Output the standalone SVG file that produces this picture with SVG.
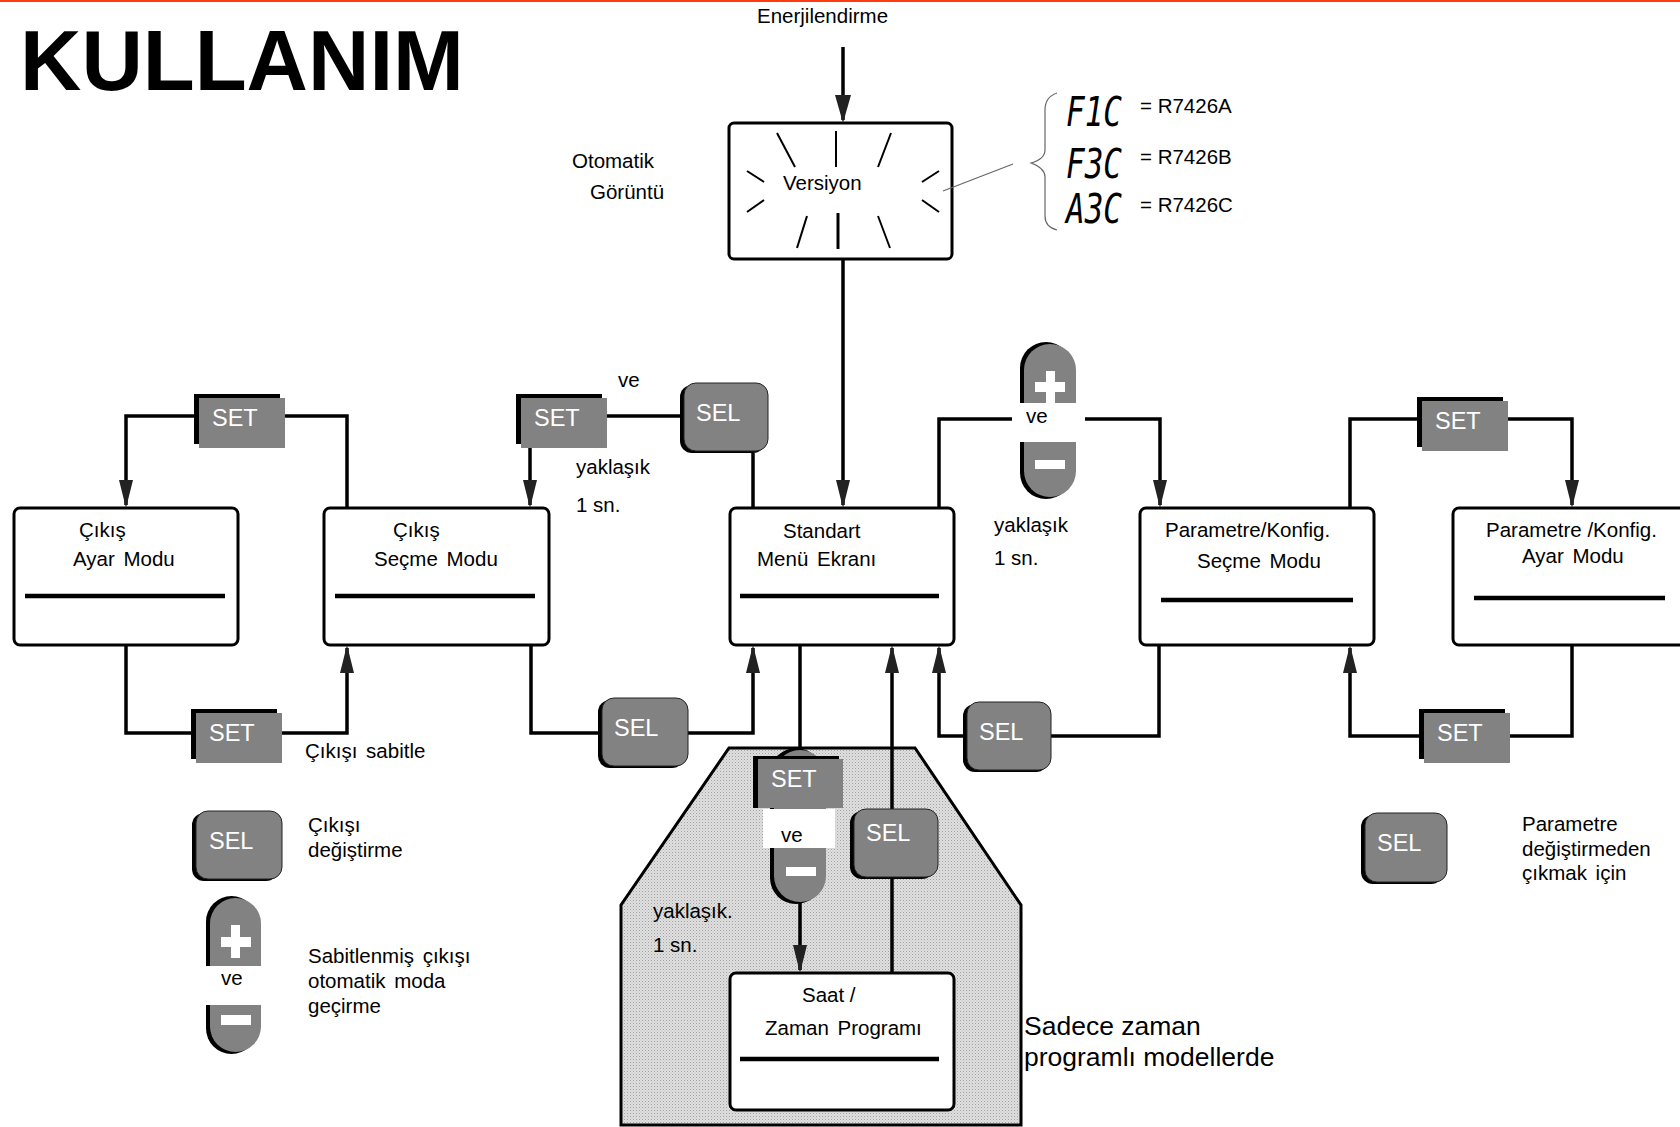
<svg xmlns="http://www.w3.org/2000/svg" width="1680" height="1127" viewBox="0 0 1680 1127">
<defs>
<style>
.t{font-family:"Liberation Sans",Arial,sans-serif;font-size:20.5px;fill:#000}
.big{font-family:"Liberation Sans",Arial,sans-serif;font-size:26.5px;fill:#000}
.k{font-family:"Liberation Sans",Arial,sans-serif;font-size:23.5px;fill:#fff}
.seg{font-family:"DejaVu Sans Mono","Liberation Mono",monospace;font-size:40px;font-style:oblique;fill:#000}
.ln{fill:none;stroke:#000;stroke-width:3.5;stroke-linejoin:miter}
.box{fill:#fff;stroke:#000;stroke-width:3}
.bar{stroke:#000;stroke-width:4.5}
.gr{fill:#828282}
.sh{fill:#000}
.wh{fill:#fff}
.thin{fill:none;stroke:#666;stroke-width:1.2}
.fl{stroke:#000;stroke-width:2}
</style>
<marker id="ah" viewBox="0 0 28 14" refX="25" refY="7" markerWidth="28" markerHeight="14" markerUnits="userSpaceOnUse" orient="auto"><path d="M0,0 L28,7 L0,14 z" fill="#222"/></marker>
<marker id="ah2" viewBox="0 0 28 16" refX="25" refY="8" markerWidth="28" markerHeight="16" markerUnits="userSpaceOnUse" orient="auto"><path d="M0,0 L28,8 L0,16 z" fill="#222"/></marker>
<pattern id="dots" width="3" height="3" patternUnits="userSpaceOnUse"><rect width="3" height="3" fill="#e0e0e0"/><rect width="1" height="1" fill="#a0a0a0"/><rect x="1.5" y="1.5" width="1" height="1" fill="#b8b8b8"/></pattern>
</defs>
<rect x="0" y="0" width="1680" height="1127" fill="#fff"/>
<rect x="0" y="0" width="1680" height="2" fill="#ff3c10"/>
<text x="20" y="90" font-family="Liberation Sans,Arial,sans-serif" font-size="85" font-weight="bold">KULLANIM</text>

<g id="shaded-area">
<polygon points="621,1125 621,905 729,748 915,748 1021,905 1021,1125" fill="url(#dots)" stroke="#000" stroke-width="3"/>
</g>

<g id="node-versiyon">
<rect class="box" x="729" y="123" width="223" height="136" rx="5"/>
<line class="fl" x1="777" y1="133" x2="795" y2="167"/>
<line class="fl" x1="836" y1="131" x2="836" y2="167"/>
<line class="fl" x1="891" y1="133" x2="878" y2="167"/>
<line class="fl" x1="747" y1="171" x2="764" y2="182"/>
<line class="fl" x1="764" y1="200" x2="747" y2="212"/>
<line class="fl" x1="939" y1="171" x2="922" y2="182"/>
<line class="fl" x1="922" y1="200" x2="939" y2="212"/>
<line class="fl" x1="807" y1="216" x2="797" y2="248"/>
<line x1="838" y1="213" x2="838" y2="249" stroke="#000" stroke-width="3"/>
<line class="fl" x1="878" y1="216" x2="890" y2="248"/>
<text class="t" x="783" y="190">Versiyon</text>
</g>

<g id="versions">
<path class="thin" d="M943,191 L1013,164"/>
<path class="thin" d="M1057,93 Q1045,97 1045,110 L1045,150 Q1045,159 1031,163 Q1045,168 1045,177 L1045,216 Q1045,227 1057,230"/>
<text class="seg" x="1066" y="126" textLength="56" lengthAdjust="spacingAndGlyphs">F1C</text>
<text class="seg" x="1066" y="178" textLength="56" lengthAdjust="spacingAndGlyphs">F3C</text>
<text class="seg" x="1066" y="223" textLength="56" lengthAdjust="spacingAndGlyphs">A3C</text>
<text class="t" x="1140" y="113">= R7426A</text>
<text class="t" x="1140" y="164">= R7426B</text>
<text class="t" x="1140" y="212">= R7426C</text>
</g>

<g id="node-cikis-ayar">
<rect class="box" x="14" y="508" width="224" height="137" rx="6"/>
<line class="bar" x1="25" y1="596" x2="225" y2="596"/>
<text class="t" x="79" y="537">Çıkış</text>
<text class="t" x="73" y="566" word-spacing="3">Ayar Modu</text>
</g>
<g id="node-cikis-secme">
<rect class="box" x="324" y="508" width="225" height="137" rx="6"/>
<line class="bar" x1="335" y1="596" x2="535" y2="596"/>
<text class="t" x="393" y="537">Çıkış</text>
<text class="t" x="374" y="566" word-spacing="3">Seçme Modu</text>
</g>
<g id="node-standart">
<rect class="box" x="730" y="508" width="224" height="137" rx="6"/>
<line class="bar" x1="740" y1="596" x2="939" y2="596"/>
<text class="t" x="783" y="538">Standart</text>
<text class="t" x="757" y="566" word-spacing="3">Menü Ekranı</text>
</g>
<g id="node-param-secme">
<rect class="box" x="1140" y="508" width="234" height="137" rx="6"/>
<line class="bar" x1="1161" y1="600" x2="1353" y2="600"/>
<text class="t" x="1165" y="537">Parametre/Konfig.</text>
<text class="t" x="1197" y="568" word-spacing="3">Seçme Modu</text>
</g>
<g id="node-param-ayar">
<rect class="box" x="1453" y="508" width="250" height="137" rx="6"/>
<line class="bar" x1="1474" y1="598" x2="1665" y2="598"/>
<text class="t" x="1486" y="537">Parametre /Konfig.</text>
<text class="t" x="1522" y="563" word-spacing="3">Ayar Modu</text>
</g>
<g id="node-saat">
<rect class="box" x="730" y="973" width="224" height="137" rx="6"/>
<line class="bar" x1="740" y1="1059" x2="939" y2="1059"/>
<text class="t" x="802" y="1002">Saat /</text>
<text class="t" x="765" y="1035" word-spacing="3">Zaman Programı</text>
</g>

<g id="connectors">
<path class="ln" d="M347,508 V416 H284"/>
<path class="ln" d="M194,416 H126 V505" marker-end="url(#ah)"/>
<path class="ln" d="M126,645 V733 H192"/>
<path class="ln" d="M282,733 H347 V648" marker-end="url(#ah)"/>
<path class="ln" d="M530,448 V505" marker-end="url(#ah)"/>
<path class="ln" d="M607,416 H680"/>
<path class="ln" d="M753,453 V508"/>
<path class="ln" d="M531,645 V733 H598"/>
<path class="ln" d="M688,733 H753 V648" marker-end="url(#ah)"/>
<path class="ln" d="M843,47 V120" marker-end="url(#ah2)"/>
<path class="ln" d="M843,259 V505" marker-end="url(#ah)"/>
<path class="ln" d="M939,508 V419 H1012"/>
<path class="ln" d="M1085,419 H1160 V505" marker-end="url(#ah)"/>
<path class="ln" d="M1159,645 V736 H1049"/>
<path class="ln" d="M963,736 H939 V648" marker-end="url(#ah)"/>
<path class="ln" d="M1350,508 V419 H1417"/>
<path class="ln" d="M1508,419 H1572 V505" marker-end="url(#ah)"/>
<path class="ln" d="M1572,645 V736 H1510"/>
<path class="ln" d="M1420,736 H1350 V648" marker-end="url(#ah)"/>
<path class="ln" d="M800,645 V756"/>
<path class="ln" d="M800,900 V970" marker-end="url(#ah)"/>
<path class="ln" d="M892,973 V648" marker-end="url(#ah)"/>
</g>

<g id="key-set-1"><rect class="sh" x="194" y="394" width="86" height="50"/><rect class="gr" x="199" y="398" width="86" height="50"/><text class="k" x="212" y="426">SET</text></g>
<g id="key-set-2"><rect class="sh" x="191" y="709" width="86" height="50"/><rect class="gr" x="196" y="713" width="86" height="50"/><text class="k" x="209" y="741">SET</text></g>
<g id="key-set-3"><rect class="sh" x="516" y="394" width="86" height="50"/><rect class="gr" x="521" y="398" width="86" height="50"/><text class="k" x="534" y="426">SET</text></g>
<g id="key-set-4"><rect class="sh" x="1417" y="397" width="86" height="50"/><rect class="gr" x="1422" y="401" width="86" height="50"/><text class="k" x="1435" y="429">SET</text></g>
<g id="key-set-5"><rect class="sh" x="1419" y="709" width="86" height="50"/><rect class="gr" x="1424" y="713" width="86" height="50"/><text class="k" x="1437" y="741">SET</text></g>

<g id="key-sel-1"><rect class="sh" x="680" y="385" width="85" height="68" rx="12"/><rect class="gr" x="684" y="383" width="84" height="68" rx="12" stroke="#222" stroke-width="1"/><text class="k" x="696" y="421">SEL</text></g>
<g id="key-sel-2"><rect class="sh" x="598" y="700" width="86" height="68" rx="12"/><rect class="gr" x="602" y="698" width="86" height="68" rx="12" stroke="#222" stroke-width="1"/><text class="k" x="614" y="736">SEL</text></g>
<g id="key-sel-3"><rect class="sh" x="963" y="704" width="85" height="68" rx="12"/><rect class="gr" x="967" y="702" width="84" height="68" rx="12" stroke="#222" stroke-width="1"/><text class="k" x="979" y="740">SEL</text></g>

<g id="key-plusminus-1">
<rect class="sh" x="1020" y="342" width="52" height="157" rx="26"/>
<rect class="gr" x="1024" y="344" width="52" height="153" rx="26"/>
<rect class="wh" x="1035" y="382" width="30" height="10"/>
<rect class="wh" x="1046" y="371" width="9" height="32"/>
<rect class="wh" x="1035" y="460" width="30" height="9"/>
<rect class="wh" x="1012" y="403" width="73" height="39"/>
<text class="t" x="1026" y="423">ve</text>
</g>

<g id="key-set-minus-shaded">
<rect class="sh" x="770" y="748" width="52" height="156" rx="26"/>
<rect class="gr" x="774" y="750" width="52" height="152" rx="26"/>
<rect class="wh" x="786" y="867" width="30" height="9"/>
<rect class="wh" x="763" y="809" width="72" height="39"/>
<text class="t" x="781" y="842">ve</text>
<rect class="sh" x="753" y="756" width="86" height="52"/>
<rect class="gr" x="758" y="759" width="85" height="49"/>
<text class="k" x="771" y="787">SET</text>
</g>
<g id="key-sel-4"><rect class="sh" x="850" y="811" width="84" height="68" rx="12"/><rect class="gr" x="854" y="809" width="84" height="68" rx="12" stroke="#222" stroke-width="1"/><text class="k" x="866" y="841">SEL</text></g>

<g id="labels">
<text class="t" x="757" y="23">Enerjilendirme</text>
<text class="t" x="572" y="168">Otomatik</text>
<text class="t" x="590" y="199">Görüntü</text>
<text class="t" x="618" y="387">ve</text>
<text class="t" x="576" y="474">yaklaşık</text>
<text class="t" x="576" y="512">1 sn.</text>
<text class="t" x="994" y="532">yaklaşık</text>
<text class="t" x="994" y="565">1 sn.</text>
<text class="t" x="305" y="758" word-spacing="3">Çıkışı sabitle</text>
<text class="t" x="653" y="918">yaklaşık.</text>
<text class="t" x="653" y="952">1 sn.</text>
<text class="big" x="1024" y="1035">Sadece zaman</text>
<text class="big" x="1024" y="1066">programlı modellerde</text>
</g>

<g id="legend-sel">
<rect class="sh" x="192" y="813" width="86" height="68" rx="12"/><rect class="gr" x="196" y="811" width="86" height="68" rx="12" stroke="#222" stroke-width="1"/><text class="k" x="209" y="849">SEL</text>
<text class="t" x="308" y="832">Çıkışı</text>
<text class="t" x="308" y="857">değiştirme</text>
</g>
<g id="legend-plusminus">
<rect class="sh" x="206" y="896" width="51" height="158" rx="25.5"/>
<rect class="gr" x="210" y="898" width="51" height="154" rx="25.5"/>
<rect class="wh" x="221" y="937" width="30" height="10"/>
<rect class="wh" x="231" y="925" width="9" height="33"/>
<rect class="wh" x="221" y="1015" width="30" height="10"/>
<rect class="wh" x="203" y="966" width="60" height="39"/>
<text class="t" x="221" y="985">ve</text>
<text class="t" x="308" y="963" word-spacing="3">Sabitlenmiş çıkışı</text>
<text class="t" x="308" y="988" word-spacing="3">otomatik moda</text>
<text class="t" x="308" y="1013">geçirme</text>
</g>
<g id="legend-sel-exit">
<rect class="sh" x="1361" y="815" width="82" height="69" rx="12"/><rect class="gr" x="1365" y="813" width="82" height="69" rx="12" stroke="#222" stroke-width="1"/><text class="k" x="1377" y="851">SEL</text>
<text class="t" x="1522" y="831">Parametre</text>
<text class="t" x="1522" y="856">değiştirmeden</text>
<text class="t" x="1522" y="880" word-spacing="3">çıkmak için</text>
</g>
</svg>
